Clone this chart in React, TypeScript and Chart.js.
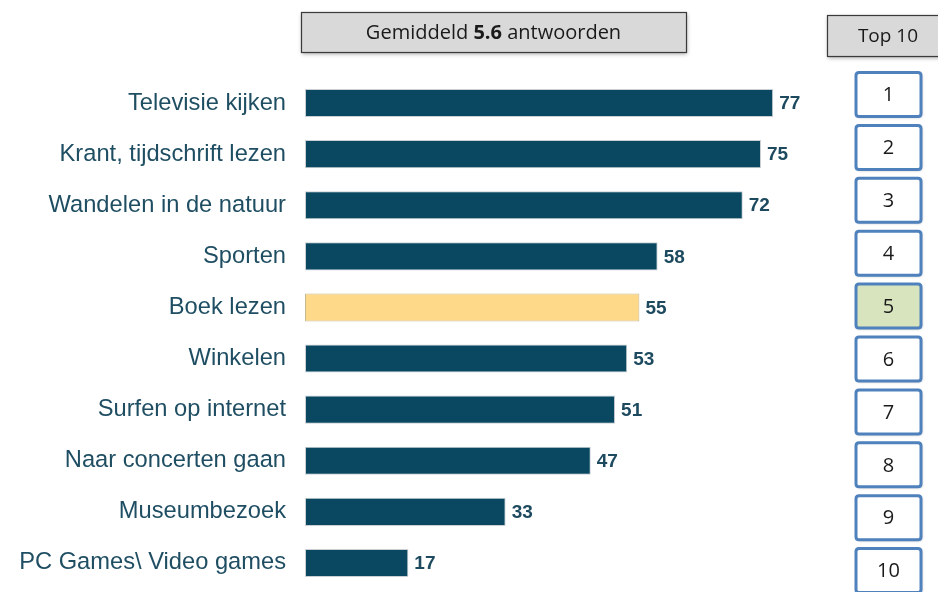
import React, { useEffect, useRef } from "react";
import { Chart, registerables } from "chart.js";

Chart.register(...registerables);

const categories = [
  "Televisie kijken",
  "Krant, tijdschrift lezen",
  "Wandelen in de natuur",
  "Sporten",
  "Boek lezen",
  "Winkelen",
  "Surfen op internet",
  "Naar concerten gaan",
  "Museumbezoek",
  "PC Games\\ Video games",
];
const values = [77, 75, 72, 58, 55, 53, 51, 47, 33, 17];
const highlightIndex = 4;
const ranks = ["1", "2", "3", "4", "5", "6", "7", "8", "9", "10"];
const headerPrefix = "Gemiddeld ";
const headerBold = "5.6";
const headerSuffix = " antwoorden";
const topHeader = "Top 10";

const BAR = "#0a4862";
const HILITE = "#fed98a";
const LABEL = "#1f4e63";

function roundRect(ctx: CanvasRenderingContext2D, x: number, y: number, w: number, h: number, r: number) {
  ctx.beginPath();
  ctx.moveTo(x + r, y);
  ctx.lineTo(x + w - r, y);
  ctx.quadraticCurveTo(x + w, y, x + w, y + r);
  ctx.lineTo(x + w, y + h - r);
  ctx.quadraticCurveTo(x + w, y + h, x + w - r, y + h);
  ctx.lineTo(x + r, y + h);
  ctx.quadraticCurveTo(x, y + h, x, y + h - r);
  ctx.lineTo(x, y + r);
  ctx.quadraticCurveTo(x, y, x + r, y);
  ctx.closePath();
}

const decorPlugin = {
  id: "decor",
  afterDatasetsDraw(chart: any) {
    const ctx: CanvasRenderingContext2D = chart.ctx;
    const meta = chart.getDatasetMeta(0);
    // value labels
    ctx.save();
    ctx.font = "bold 19px 'Liberation Sans', Arial, sans-serif";
    ctx.fillStyle = "#1d4a5f";
    ctx.textBaseline = "middle";
    ctx.textAlign = "left";
    meta.data.forEach((bar: any, i: number) => {
      ctx.fillText(String(values[i]), bar.x + 6, bar.y + 1);
    });
    ctx.restore();

    // header box
    ctx.save();
    ctx.shadowColor = "rgba(0,0,0,0.35)";
    ctx.shadowBlur = 4;
    ctx.shadowOffsetX = 1;
    ctx.shadowOffsetY = 2;
    ctx.fillStyle = "#d9d9d9";
    ctx.fillRect(301, 12, 385, 40);
    ctx.restore();
    ctx.save();
    ctx.strokeStyle = "#3a3a3a";
    ctx.lineWidth = 1.2;
    ctx.strokeRect(301.5, 12.5, 385, 40);
    ctx.fillStyle = "#1a1a1a";
    ctx.textBaseline = "middle";
    const fReg = "20px 'Open Sans', sans-serif";
    const fBold = "bold 20px 'Open Sans', sans-serif";
    ctx.font = fReg;
    const w1 = ctx.measureText(headerPrefix).width;
    const w3 = ctx.measureText(headerSuffix).width;
    ctx.font = fBold;
    const w2 = ctx.measureText(headerBold).width;
    let x = 493.5 - (w1 + w2 + w3) / 2;
    const ty = 33;
    ctx.font = fReg;
    ctx.fillText(headerPrefix, x, ty);
    x += w1;
    ctx.font = fBold;
    ctx.fillText(headerBold, x, ty);
    x += w2;
    ctx.font = fReg;
    ctx.fillText(headerSuffix, x, ty);
    ctx.restore();

    // Top 10 header
    ctx.save();
    ctx.shadowColor = "rgba(0,0,0,0.35)";
    ctx.shadowBlur = 4;
    ctx.shadowOffsetX = 1;
    ctx.shadowOffsetY = 2;
    ctx.fillStyle = "#d9d9d9";
    ctx.fillRect(827, 15, 120, 41);
    ctx.restore();
    ctx.save();
    ctx.strokeStyle = "#3a3a3a";
    ctx.lineWidth = 1.2;
    ctx.strokeRect(827.5, 15.5, 120, 41);
    ctx.fillStyle = "#1a1a1a";
    ctx.font = "19px 'Open Sans', sans-serif";
    ctx.textAlign = "center";
    ctx.textBaseline = "middle";
    ctx.fillText(topHeader, 888, 37);
    ctx.restore();

    // rank boxes
    ranks.forEach((r, i) => {
      const top = 72.5 + i * 52.9;
      ctx.save();
      ctx.shadowColor = "rgba(0,0,0,0.3)";
      ctx.shadowBlur = 3;
      ctx.shadowOffsetX = 1;
      ctx.shadowOffsetY = 1;
      roundRect(ctx, 856, top, 65, 44, 3);
      ctx.fillStyle = i === highlightIndex ? "#d7e4bd" : "#ffffff";
      ctx.fill();
      ctx.restore();
      ctx.save();
      roundRect(ctx, 856, top, 65, 44, 3);
      ctx.strokeStyle = "#4f81bd";
      ctx.lineWidth = 3;
      ctx.stroke();
      ctx.fillStyle = "#1a1a1a";
      ctx.font = "20px 'Open Sans', sans-serif";
      ctx.textAlign = "center";
      ctx.textBaseline = "middle";
      ctx.fillText(r, 888.5, top + 23);
      ctx.restore();
    });
  },
};

export default function App() {
  const ref = useRef<HTMLCanvasElement>(null);
  useEffect(() => {
    if (!ref.current) return;
    const chart = new Chart(ref.current, {
      type: "bar",
      data: {
        labels: categories,
        datasets: [
          {
            data: values,
            backgroundColor: values.map((_, i) => (i === highlightIndex ? HILITE : BAR)),
            borderColor: values.map((_, i) => (i === highlightIndex ? "#c9b98e" : "#c9cfd3")),
            borderWidth: 1,
            borderSkipped: false,
            barPercentage: 0.55,
            categoryPercentage: 1,
          },
        ],
      },
      options: {
        indexAxis: "y",
        responsive: false,
        animation: false,
        events: [],
        layout: { padding: { top: 77.5, bottom: 3.5, right: 25, left: 0 } },
        plugins: { legend: { display: false }, tooltip: { enabled: false } },
        scales: {
          x: { display: false, min: 0, max: 100 },
          y: {
            afterFit: (s: any) => {
              s.width = 305;
              s.paddingTop = 0;
              s.paddingBottom = 0;
            },
            grid: { display: false, drawTicks: false },
            border: { display: false },
            ticks: {
              padding: 19,
              color: LABEL,
              autoSkip: false,
              font: { family: "'Liberation Sans', Arial, sans-serif", size: 23.7 },
            },
          },
        },
      },
      plugins: [decorPlugin],
    });
    return () => chart.destroy();
  }, []);
  return (
    <div style={{ position: "absolute", left: 0, top: 0, width: 938, height: 592, background: "#fff" }}>
      <canvas ref={ref} width={938} height={592} />
    </div>
  );
}
